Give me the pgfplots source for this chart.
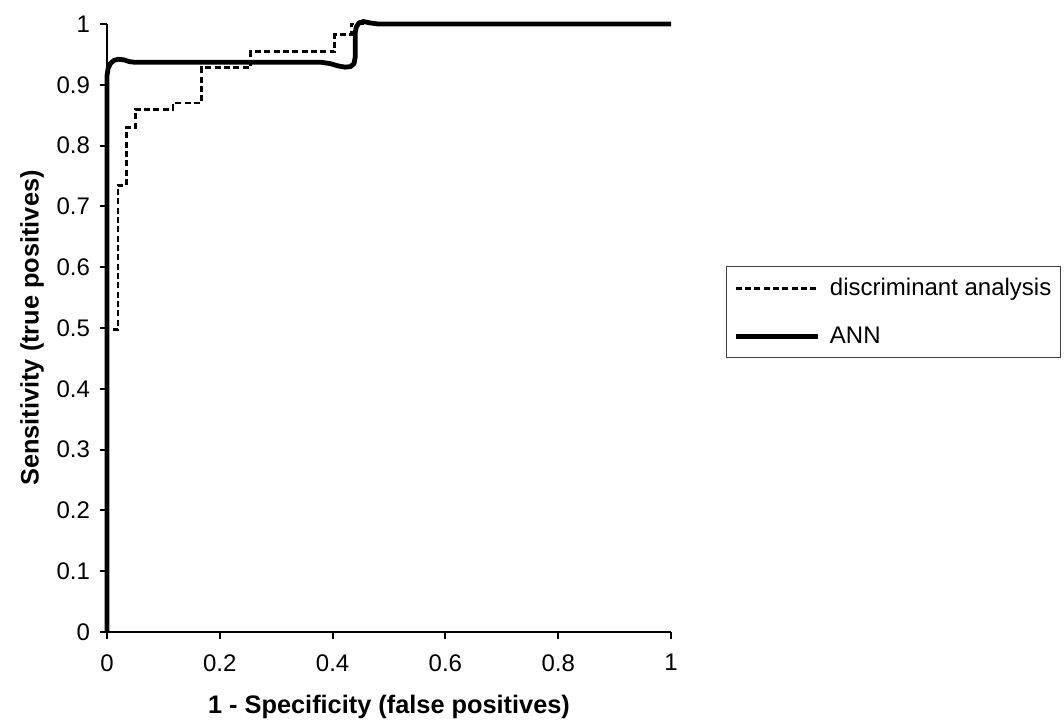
\documentclass[border=0pt]{standalone}
\usepackage{fontspec}
\setmainfont{Liberation Sans}
\usepackage{pgfplots}
\pgfplotsset{compat=1.18}

\begin{document}
\begin{tikzpicture}
% page = 1064 x 724 px at 0.75pt per px; axis origin at px (107,632)
\path[use as bounding box] (-80.25pt,-69pt) rectangle (717.75pt,474pt);
\clip (-80.25pt,-69pt) rectangle (717.75pt,474pt);
\begin{axis}[
  at={(0,0)}, anchor=south west,
  scale only axis,
  width=423pt, height=456pt,
  xmin=0, xmax=1, ymin=0, ymax=1,
  axis lines=left,
  axis line style={-, line width=1.5pt},
  tick style={line width=1.5pt, black},
  tick align=outside,
  major tick length=5.25pt,
  xtick={0,0.2,...,1},
  ytick={0,0.1,...,1},
  /pgf/number format/assume math mode=true,
  ticklabel style={font=\fontsize{18}{21}\selectfont},
  xticklabel style={yshift=-8pt},
  yticklabel style={xshift=-4pt},
  xlabel={\textbf{1 - Specificity (false positives)}},
  ylabel={\textbf{Sensitivity (true positives)}},
  every axis x label/.style={at={(axis description cs:0.5,-0.1234)}, anchor=center, font=\fontsize{19}{22}\selectfont},
  every axis y label/.style={at={(axis description cs:-0.133,0.5)}, anchor=center, rotate=90, font=\fontsize{19}{22}\selectfont},
  clip=false,
  legend style={
    at={(axis description cs:1.0975,0.602)}, anchor=north west,
    draw=black!75, line width=0.75pt, fill=white,
    font=\fontsize{18}{21}\selectfont,
    row sep=18pt, inner xsep=5pt, inner ysep=7pt,
    legend cell align=left,
    /tikz/every odd column/.append style={column sep=5pt},
  },
  legend image code/.code={\draw[#1] (0pt,0pt) -- (62pt,0pt);},
]
% discriminant analysis (step ROC)
\addplot[black, line width=2.2pt, dash pattern=on 4.5pt off 2.5pt] coordinates {
  (0,0) (0,0.497) (0.0195,0.497) (0.0195,0.735) (0.035,0.735) (0.035,0.83)
  (0.051,0.83) (0.051,0.86) (0.117,0.86) (0.117,0.87) (0.168,0.87)
  (0.168,0.928) (0.255,0.928) (0.255,0.954) (0.404,0.954) (0.404,0.983)
  (0.434,0.983) (0.434,1) (1,1)
};
\addlegendentry{discriminant analysis}
% ANN
\addplot[black, line width=3.6pt, line join=round] coordinates {
  (0,0) (0,0.915) (0.002,0.927) (0.006,0.935) (0.012,0.940) (0.02,0.942)
  (0.03,0.941) (0.04,0.938) (0.05,0.937) (0.38,0.937) (0.395,0.935)
  (0.41,0.931) (0.422,0.929) (0.432,0.930) (0.438,0.935) (0.44,0.945)
  (0.44,0.985) (0.442,0.995) (0.447,1.002) (0.455,1.004) (0.465,1.002)
  (0.48,1.0) (1,1)
};
\addlegendentry{ANN}
\end{axis}
\end{tikzpicture}
\end{document}
